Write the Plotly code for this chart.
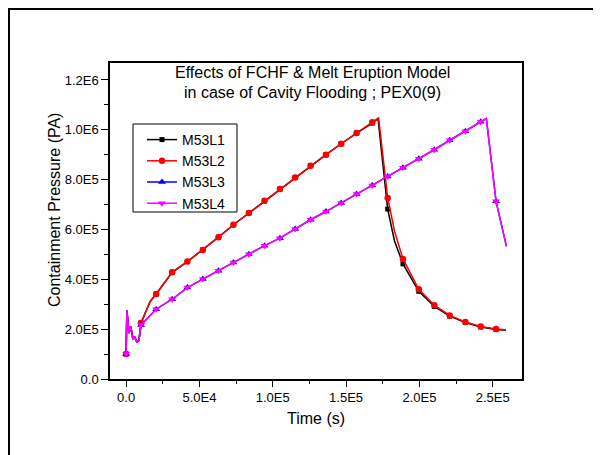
import plotly.graph_objects as go

# ---------------- data ----------------
series_names = ["M53L1", "M53L2", "M53L3", "M53L4"]

# marker sample times (s)
mk_time_a = [0, 10200, 20500, 31400, 41800, 52300, 63000, 73200, 83700, 94400,
             104900, 115300, 125800, 136300, 146700, 157200, 167900, 178400,
             188800, 199600, 210200, 220700, 231400, 241800, 252300]
mk_time_b = mk_time_a

# pressures at the marker samples (Pa)
l1_mk_p = [100000, 225000, 341000, 428000, 471000, 518000, 569000, 619000, 666000,
           715000, 762000, 809000, 856000, 900000, 944000, 987000, 1027000, 682000,
           462000, 352000, 291000, 252000, 227000, 209000, 199000]
l2_mk_p = [100000, 225000, 341000, 428000, 471000, 518000, 569000, 619000, 666000,
           715000, 762000, 809000, 856000, 900000, 944000, 987000, 1030000, 726000,
           482000, 360000, 296000, 255000, 229000, 211000, 201000]
l3_mk_p = [100000, 217000, 280000, 320000, 367000, 401000, 434000, 467000, 501000,
           535000, 565000, 602000, 639000, 672000, 706000, 742000, 776000, 813000,
           848000, 884000, 920000, 958000, 994000, 1032000, 713000]
l4_mk_p = list(l3_mk_p)

# early transient (line-only points), shared by all runs
transient_t = [500, 2000, 3200, 4600, 5700, 7300, 8700]
transient_p = [275000, 184000, 210000, 160000, 170000, 149000, 154000]

# other line-only points (peaks, knees, ends)
l1_extra_t = [16400, 171800, 183000, 259000]
l1_extra_p = [311000, 1045000, 555000, 196000]
l2_extra_t = [16400, 172200, 183200, 259000]
l2_extra_p = [311000, 1048000, 590000, 198000]
l3_extra_t = [245700, 259400]
l3_extra_p = [1045000, 532000]
l4_extra_t = [245700, 259400]
l4_extra_p = [1045000, 532000]

x_tickvals = [0, 50000, 100000, 150000, 200000, 250000]
x_ticktext = ["0.0", "5.0E4", "1.0E5", "1.5E5", "2.0E5", "2.5E5"]
y_tickvals = [0, 200000, 400000, 600000, 800000, 1000000, 1200000]
y_ticktext = ["0.0", "2.0E5", "4.0E5", "6.0E5", "8.0E5", "1.0E6", "1.2E6"]

title_line1 = "Effects of FCHF & Melt Eruption Model"
title_line2 = "in case of Cavity Flooding ; PEX0(9)"
x_title = "Time (s)"
y_title = "Containment Pressure (PA)"

# ---------------- build ----------------
def merged(mk_t, mk_p, ex_t, ex_p):
    pts = sorted(list(zip(mk_t, mk_p)) + list(zip(transient_t, transient_p)) + list(zip(ex_t, ex_p)))
    return [p[0] for p in pts], [p[1] for p in pts]

runs = [
    (series_names[0], mk_time_a, l1_mk_p, l1_extra_t, l1_extra_p, "black", "square", 5),
    (series_names[1], mk_time_a, l2_mk_p, l2_extra_t, l2_extra_p, "#ff0000", "circle", 6.5),
    (series_names[2], mk_time_b, l3_mk_p, l3_extra_t, l3_extra_p, "#0000ff", "triangle-up", 7),
    (series_names[3], mk_time_b, l4_mk_p, l4_extra_t, l4_extra_p, "#ff00ff", "triangle-down", 7),
]

FONT = "Arial, 'Liberation Sans', sans-serif"
W, H = 593, 447
L, R, T, B = 102, 79, 55, 76
PW, PH = W - L - R, H - T - B
OFF = 8  # page body margin


def px(page_x):
    return (page_x - OFF - L) / PW


def py(page_y):
    return (PH - (page_y - OFF - T)) / PH


fig = go.Figure()
for name, mt, mp, et, ep, col, sym, ms in runs:
    lx, ly = merged(mt, mp, et, ep)
    fig.add_trace(go.Scatter(x=lx, y=ly, mode="lines", line=dict(color=col, width=1.5),
                             showlegend=False, hoverinfo="skip"))
    fig.add_trace(go.Scatter(x=mt, y=mp, mode="markers",
                             marker=dict(color=col, symbol=sym, size=ms, line=dict(width=0)),
                             showlegend=False))
    fig.add_trace(go.Scatter(x=[None], y=[None], mode="lines+markers", name=name,
                             line=dict(color=col, width=1.5),
                             marker=dict(color=col, symbol=sym, size=ms, line=dict(width=0))))

axis_common = dict(showgrid=False, zeroline=False, showline=True, linecolor="black",
                   linewidth=1.5, mirror=True, ticks="outside", tickcolor="black",
                   tickwidth=1, tickfont=dict(family=FONT, size=13, color="black"))

fig.update_xaxes(range=[-11000, 270000], tickvals=x_tickvals, ticktext=x_ticktext,
                 ticklen=6,
                 minor=dict(ticks="outside", dtick=25000, tick0=0, ticklen=3,
                            tickcolor="black", tickwidth=1),
                 title=dict(text=x_title, font=dict(family=FONT, size=16, color="black"),
                            standoff=8),
                 **axis_common)
fig.update_yaxes(range=[0, 1268000], tickvals=y_tickvals, ticktext=y_ticktext,
                 ticklen=7,
                 minor=dict(ticks="outside", dtick=100000, tick0=0, ticklen=4,
                            tickcolor="black", tickwidth=1),
                 **axis_common)

# y-axis title (placed like the original, slightly above the axis centre)
fig.add_annotation(x=px(54), y=py(210), xref="paper", yref="paper",
                   xanchor="center", yanchor="middle", textangle=-90,
                   text=y_title, showarrow=False,
                   font=dict(family=FONT, size=16, color="black"))

fig.add_annotation(x=px(312), y=py(72), xref="paper", yref="paper",
                   xanchor="center", yanchor="middle",
                   text=title_line1, showarrow=False,
                   font=dict(family=FONT, size=16, color="black"))
fig.add_annotation(x=px(312), y=py(93), xref="paper", yref="paper",
                   xanchor="center", yanchor="middle",
                   text=title_line2, showarrow=False,
                   font=dict(family=FONT, size=16, color="black"))

# outer picture frame (left and top edges visible)
fig.add_shape(type="rect", xref="paper", yref="paper",
              x0=(1 - L) / PW, x1=1.4, y0=-0.4, y1=(PH + T - 1) / PH,
              line=dict(color="black", width=2), fillcolor="rgba(0,0,0,0)")
# legend frame
fig.add_shape(type="rect", xref="paper", yref="paper",
              x0=px(133), x1=px(237), y0=py(212), y1=py(124),
              line=dict(color="black", width=1), fillcolor="white", layer="below")

fig.update_layout(
    width=W, height=H,
    margin=dict(l=L, r=R, t=T, b=B),
    paper_bgcolor="white", plot_bgcolor="white",
    font=dict(family=FONT, color="black"),
    legend=dict(x=px(142), y=py(124),
                xanchor="left", yanchor="top",
                borderwidth=0, bgcolor="rgba(0,0,0,0)",
                font=dict(family=FONT, size=14, color="black"),
                tracegroupgap=0),
    showlegend=True,
)

fig.write_html("out.html")
